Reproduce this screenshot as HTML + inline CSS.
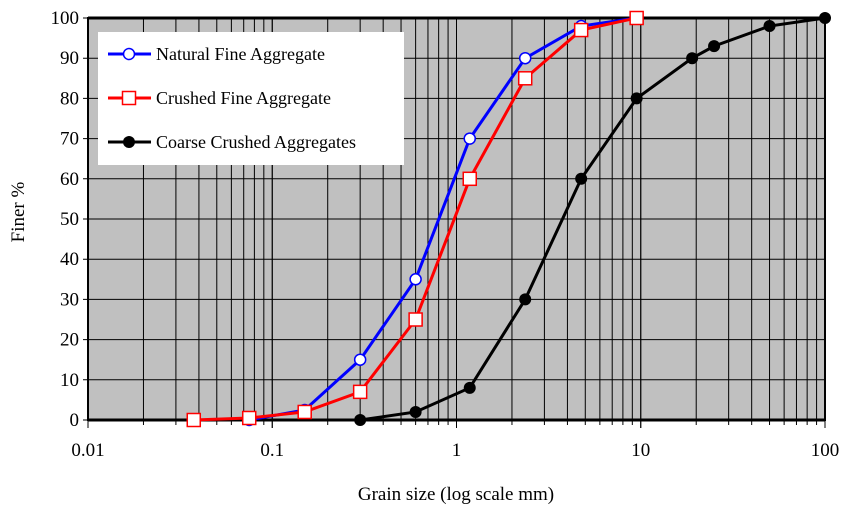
<!DOCTYPE html>
<html><head><meta charset="utf-8"><style>
body{margin:0;background:#fff;}
svg{display:block;font-family:"Liberation Serif",serif;}
</style></head><body>
<svg id="chart" width="850" height="514" xmlns="http://www.w3.org/2000/svg"></svg>
<script>
const naturalX=[0.075,0.15,0.3,0.6,1.18,2.36,4.75,9.5];
const naturalY=[0,2.5,15,35,70,90,98,100];
const crushedX=[0.0375,0.075,0.15,0.3,0.6,1.18,2.36,4.75,9.5];
const crushedY=[0,0.5,2,7,25,60,85,97,100];
const coarseX=[0.3,0.6,1.18,2.36,4.75,9.5,19,25,50,100];
const coarseY=[0,2,8,30,60,80,90,93,98,100];
const xTickLabels=["0.01","0.1","1","10","100"];
const yTickLabels=[0,10,20,30,40,50,60,70,80,90,100];

const L=88,R=825,T=18,B=420;
const sx=v=>L+(Math.log10(v)+2)/4*(R-L);
const sy=v=>B-v/100*(B-T);
const svg=document.getElementById('chart');
const NS="http://www.w3.org/2000/svg";
function mk(tag,attrs,parent){const e=document.createElementNS(NS,tag);for(const k in attrs)e.setAttribute(k,attrs[k]);(parent||svg).appendChild(e);return e;}

const bg=mk('rect',{x:L,y:T,width:R-L,height:B-T,fill:'#c0c0c0'});


for(let d=-2;d<2;d++){for(let m=1;m<=10;m++){const v=m*Math.pow(10,d);const x=sx(v);
 const g=mk('line',{x1:x,x2:x,y1:T,y2:B,stroke:'#000','stroke-width':1});
 
 
 const major=(m===1||m===10);
 const t=mk('line',{x1:x,x2:x,y1:B,y2:B+(major?8:5),stroke:'#000','stroke-width':1});
 
 
}}
yTickLabels.forEach(v=>{const y=sy(v);
 const g=mk('line',{x1:L-5,x2:R,y1:y,y2:y,stroke:'#000','stroke-width':1});
 
 
 const t=mk('text',{x:L-9,y:y+6,'text-anchor':'end','font-size':19});t.textContent=v;
 
 
});
xTickLabels.forEach(s=>{const t=mk('text',{x:sx(parseFloat(s)),y:B+36,'text-anchor':'middle','font-size':19});t.textContent=s;
 
 
});
const fr=mk('rect',{x:L,y:T,width:R-L,height:B-T,fill:'none',stroke:'#000','stroke-width':2});


mk('line',{x1:L,x2:R,y1:T,y2:T,stroke:'#000','stroke-width':3});
mk('line',{x1:L,x2:R,y1:B,y2:B,stroke:'#000','stroke-width':3});

function series(xs,ys,color,marker,name){
 const pts=xs.map((x,i)=>sx(x)+','+sy(ys[i])).join(' ');
 const pl=mk('polyline',{points:pts,fill:'none',stroke:color,'stroke-width':3});
 
 
 xs.forEach((x,i)=>{let m;
  if(marker==='circle')m=mk('circle',{cx:sx(x),cy:sy(ys[i]),r:5.5,fill:'#fff',stroke:color,'stroke-width':1.5});
  else if(marker==='square')m=mk('rect',{x:sx(x)-6.5,y:sy(ys[i])-6.5,width:13,height:13,fill:'#fff',stroke:color,'stroke-width':1.5});
  else m=mk('circle',{cx:sx(x),cy:sy(ys[i]),r:6,fill:'#000'});
  
  
 });
}
series(naturalX,naturalY,'#0000ff','circle','natural-fine');
series(crushedX,crushedY,'#ff0000','square','crushed-fine');
series(coarseX,coarseY,'#000','dot','coarse-crushed');

const lg=mk('g',{});


mk('rect',{x:98,y:32,width:306,height:133,fill:'#fff'},lg);
const items=[['Natural Fine Aggregate','#0000ff','circle',54],['Crushed Fine Aggregate','#ff0000','square',98],['Coarse Crushed Aggregates','#000','dot',142]];
items.forEach(([t,c,m,y])=>{
 const g=mk('g',{},lg);
 
 
 mk('line',{x1:108,x2:151,y1:y,y2:y,stroke:c,'stroke-width':3},g);
 if(m==='circle')mk('circle',{cx:129,cy:y,r:5.5,fill:'#fff',stroke:c,'stroke-width':1.5},g);
 else if(m==='square')mk('rect',{x:122.5,y:y-6.5,width:13,height:13,fill:'#fff',stroke:c,'stroke-width':1.5},g);
 else mk('circle',{cx:129,cy:y,r:6,fill:'#000'},g);
 const tx=mk('text',{x:156,y:y+6,'font-size':18},g);tx.textContent=t;
});
const xt=mk('text',{x:456,y:500,'text-anchor':'middle','font-size':19});xt.textContent='Grain size (log scale mm)';


const yt=mk('text',{x:0,y:0,'text-anchor':'middle','font-size':19,transform:'translate(24,212) rotate(-90)'});yt.textContent='Finer %';


</script>
</body></html>
